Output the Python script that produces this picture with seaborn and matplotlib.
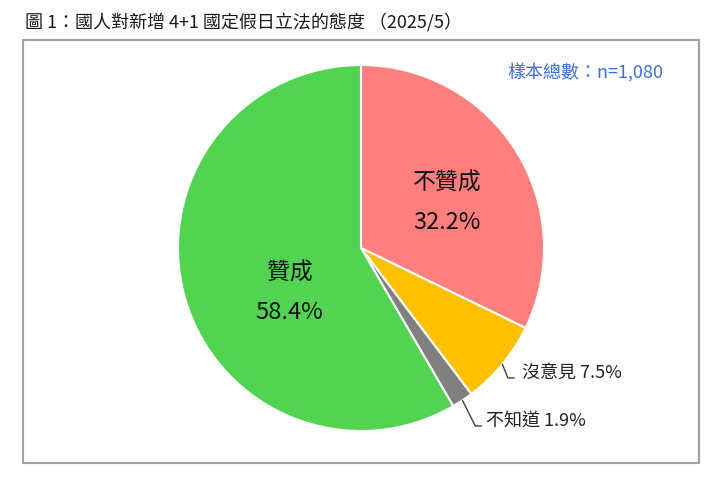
import numpy as np
import seaborn as sns
import matplotlib.pyplot as plt
from matplotlib.patches import Rectangle

# survey result, clockwise from 12 o'clock
labels = ["不贊成", "沒意見", "不知道", "贊成"]
shares = [32.2, 7.5, 1.9, 58.4]
colors = ["#FF7F7F", "#FFC000", "#808080", "#52D452"]

title = "圖 1：國人對新增 4+1 國定假日立法的態度 （2025/5）"
sample_note = "樣本總數：n=1,080"

sns.set_theme(style="white")
plt.rcParams["font.family"] = ["Noto Sans CJK TC", "DejaVu Sans"]

W, H = 720, 480
fig = plt.figure(figsize=(W / 100, H / 100), dpi=100)

# pie centre (361, 248) px, radius 183 px
cx, cy, r = 361, 248, 183
ax = fig.add_axes([(cx - r) / W, 1 - (cy + r) / H, 2 * r / W, 2 * r / H])

wedges, _ = ax.pie(
    shares,
    colors=colors,
    startangle=90,
    counterclock=False,
    wedgeprops=dict(edgecolor="white", linewidth=1.5),
)
ax.set_xlim(-1, 1)
ax.set_ylim(-1, 1)
ax.set_aspect("equal")
ax.axis("off")

pct = [f"{v:.1f}%" for v in shares]

# big labels inside the two large slices (block centre, data units)
inner = {0: (0.47, 0.245), 3: (-0.39, -0.245)}
for i, (x, y) in inner.items():
    ax.text(x, y + 0.108, labels[i], ha="center", va="center", fontsize=16.5, color="#111111")
    ax.text(x, y - 0.108, pct[i], ha="center", va="center", fontsize=17, color="#111111")

# small slices: elbow leader lines from the wedge edge
outer = {1: (0.035, 0.88), 2: (0.07, 0.683)}
for i, (drop, tx) in outer.items():
    w = wedges[i]
    ang = np.deg2rad((w.theta1 + w.theta2) / 2)
    x0, y0 = np.cos(ang), np.sin(ang)
    ybend = y0 - drop - 0.04 if i == 1 else y0 - 0.14
    xbend = x0 + (0.03 if i == 1 else 0.07)
    ax.plot([x0, xbend, xbend + 0.035], [y0, ybend, ybend], color="#404040", lw=1,
            clip_on=False)
    ax.text(tx, ybend + 0.03, f"{labels[i]} {pct[i]}", ha="left", va="center",
            fontsize=13, color="#222222")

fig.text(25 / W, 1 - 23 / H, title, ha="left", va="center", fontsize=13, color="#1a1a1a")
fig.text(663 / W, 1 - 72 / H, sample_note, ha="right", va="center", fontsize=13,
         color="#3F6FD8")

fig.patches.append(Rectangle((23 / W, 1 - 463 / H), (699 - 23) / W, (463 - 40) / H,
                             transform=fig.transFigure, fill=False,
                             edgecolor="#A0A0A0", linewidth=1.5))

fig.savefig("out.png", dpi=100)
